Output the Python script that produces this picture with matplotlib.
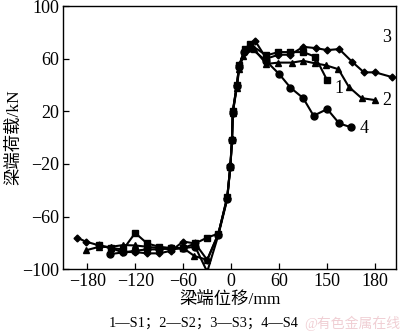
import matplotlib.pyplot as plt

plt.rcParams['font.family'] = ['Liberation Serif', 'Noto Sans CJK SC']
plt.rcParams['axes.unicode_minus'] = True

# skeleton curves, displacement (mm) vs load (kN)
s1_x = [-165, -150, -135, -120, -105, -90, -75, -60, -45, -30, -16, -5, -1, 1, 2, 7, 10, 17, 23, 44, 59, 74, 90, 105, 120]
s1_y = [-82, -84, -85, -72.5, -80.5, -83, -84, -84, -80.5, -76, -73, -45, -22, -2, 20, 40, 55, 67, 71, 62.5, 65, 65, 65, 61.5, 43.5]

s2_x = [-181, -165, -150, -135, -120, -105, -90, -75, -60, -46, -30, -16, -5, -1, 1, 2, 7, 10, 15, 28, 44, 59, 76, 90, 105, 118, 134, 147, 163, 180]
s2_y = [-85.6, -83, -83, -81.7, -82, -83, -84, -85, -84, -90, -93, -73, -46, -21, -1, 19, 38, 52, 62, 67.5, 56, 57, 57, 58.4, 56.4, 55, 52, 38.6, 30, 28.5]

s3_x = [-193, -182, -165, -150, -137, -120, -105, -90, -75, -60, -45, -30, -16, -5, -1, 1, 2, 7, 10, 17, 30, 44, 59, 74, 90, 106, 120, 135, 151, 166, 180, 201]
s3_y = [-76, -79, -82, -84, -87, -87, -88, -88, -86, -79, -80.5, -93, -73, -46, -21, -1, 20, 40, 55, 66.5, 73.5, 60, 63, 63, 69, 68, 66.5, 67.3, 57.7, 49.6, 49.6, 46]

s4_x = [-152, -135, -120, -105, -90, -75, -60, -45, -30, -16, -5, -1, 1, 2, 7, 10, 16, 25, 44, 60, 74, 90, 103, 120, 135, 150]
s4_y = [-88.6, -87.3, -86, -85, -85, -84, -84, -83, -102, -74, -47, -22, -2, 19, 39, 54, 65, 68, 58, 48.3, 38, 30, 16.6, 21.7, 10.8, 7.8]

curves = [(s1_x, s1_y, 's', 5), (s2_x, s2_y, '^', 5),
          (s3_x, s3_y, 'D', 3.5), (s4_x, s4_y, 'o', 5)]

curve_labels = ['1', '2', '3', '4']
label_x = [129, 189, 189, 160]
label_y = [37.5, 28.5, 76, 7]

xticks = [-180, -120, -60, 0, 60, 120, 180]
xtick_labels = ['−180', '−120', '−60', '0', '60', '150', '180']
yticks = [-100, -60, -20, 20, 60, 100]

fig = plt.figure(figsize=(4, 3.36), dpi=100)
ax = fig.add_axes([0.158, 0.199, 0.832, 0.783])

for x, y, m, ms in curves:
    ax.plot(x, y, color='black', lw=1.5, marker=m, ms=ms, mfc='black', mec='black')

for t, lx, ly in zip(curve_labels, label_x, label_y):
    ax.text(lx, ly, t, fontsize=13, ha='left', va='center')

ax.set_xlim(-210, 206)
ax.set_ylim(-100, 100)
ax.set_xticks(xticks)
ax.set_xticklabels(xtick_labels)
ax.set_yticks(yticks)
ax.tick_params(direction='in', length=4, width=0.9, labelsize=13, pad=3)
for sp in ax.spines.values():
    sp.set_linewidth(1.0)

ax.set_xlabel('梁端位移/mm', fontsize=12.5, labelpad=1)
ax.set_ylabel('梁端荷载/kN', fontsize=12.5, labelpad=0)

fig.text(0.51, 0.039, '1—S1；2—S2；3—S3；4—S4', fontsize=10.4, ha='center', va='center')
fig.text(0.88, 0.039, '@有色金属在线', fontsize=10, ha='center', va='center', color='#f0cfd4')

fig.savefig('out.png', dpi=100)
